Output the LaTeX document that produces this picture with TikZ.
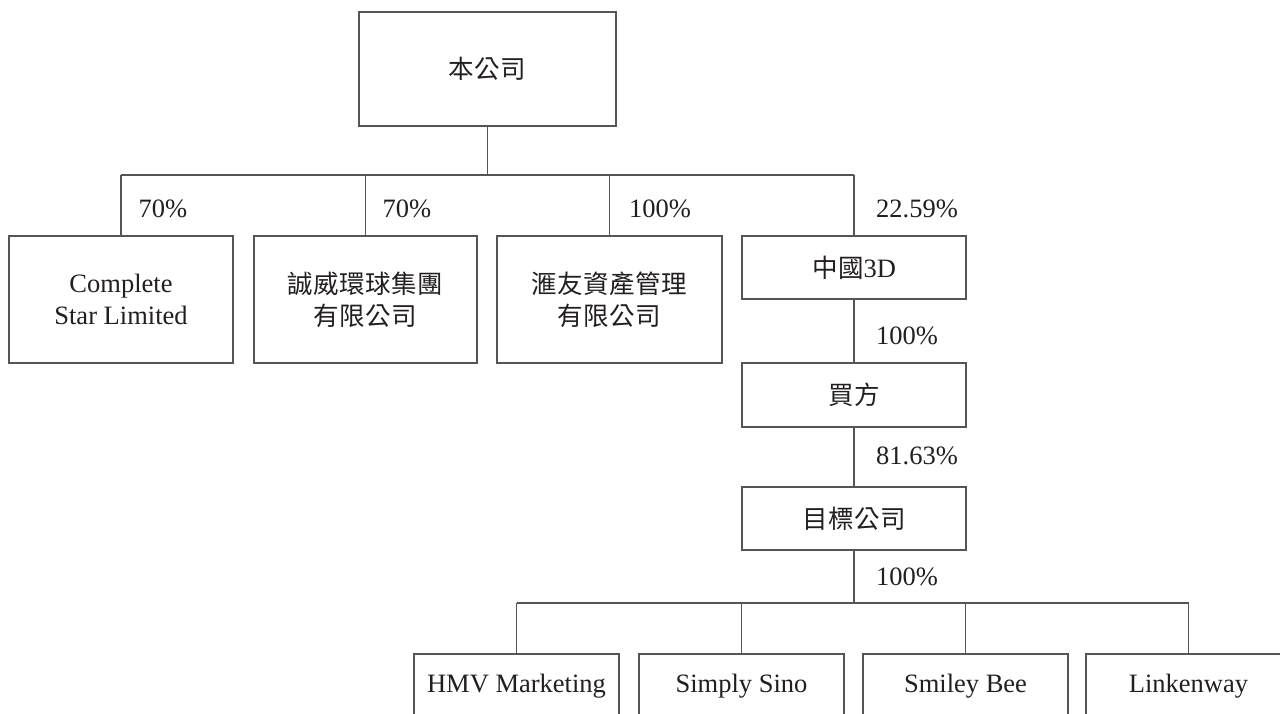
\documentclass[tikz,border=0pt]{standalone}
\usepackage{fontspec}
\setmainfont{Liberation Serif}
\newfontfamily\cjk[LetterSpace=2]{Noto Sans CJK TC}
\begin{document}
\begin{tikzpicture}[x=1pt,y=-1pt,
  box/.style={draw=linecol,line width=1.3pt,rectangle,inner sep=0pt,align=center,text=txtcol,font=\fontsize{26.5}{32}\selectfont},
  cbox/.style={box,font=\cjk\fontsize{25.5}{32}\selectfont},
  pct/.style={text=txtcol,font=\fontsize{26.5}{30}\selectfont,inner sep=0pt},
  conn/.style={draw=linecol,line width=1.3pt}]
\definecolor{linecol}{HTML}{555555}
\definecolor{txtcol}{HTML}{231F20}
\useasboundingbox (0,0) rectangle (1280,713);
\fill[white] (0,0) rectangle (1280,713);
% nodes
\node[cbox,minimum width=257pt,minimum height=114pt] (top) at (487.5,69) {本公司};
\node[box,minimum width=224pt,minimum height=127pt] (cs) at (121,299.5) {Complete\\Star Limited};
\node[cbox,minimum width=223pt,minimum height=127pt] (cw) at (365.5,299.5) {誠威環球集團\\有限公司};
\node[cbox,minimum width=225pt,minimum height=127pt] (hy) at (609.5,299.5) {滙友資產管理\\有限公司};
\node[box,minimum width=224pt,minimum height=63pt] (zg) at (854,267.5) {{\cjk\fontsize{25.5}{30}\selectfont 中國}3D};
\node[cbox,minimum width=224pt,minimum height=64pt] (mf) at (854,395) {買方};
\node[cbox,minimum width=224pt,minimum height=63pt] (mb) at (854,518.5) {目標公司};
\node[box,minimum width=205pt,minimum height=64pt] (hmv) at (516.5,686) {HMV Marketing};
\node[box,minimum width=205pt,minimum height=64pt] (ss) at (741.5,686) {Simply Sino};
\node[box,minimum width=205pt,minimum height=64pt] (sb) at (965.5,686) {Smiley Bee};
\node[box,minimum width=205pt,minimum height=64pt] (lw) at (1188.5,686) {Linkenway};
% buses
\coordinate (b1) at (487.5,175);
\coordinate (b1l) at (121,175);
\coordinate (b1r) at (854,175);
\coordinate (b2) at (854,603);
\coordinate (b2l) at (516.5,603);
\coordinate (b2r) at (1188.5,603);
\draw[conn] (top.south) -- (b1);
\draw[conn] (b1l) -- (b1r);
\foreach \n in {cs,cw,hy,zg} \draw[conn] (\n.north) -- (\n.north |- b1);
\draw[conn] (zg.south) -- (mf.north);
\draw[conn] (mf.south) -- (mb.north);
\draw[conn] (mb.south) -- (b2);
\draw[conn] (b2l) -- (b2r);
\foreach \n in {hmv,ss,sb,lw} \draw[conn] (\n.north) -- (\n.north |- b2);
% labels
\node[pct] (p1) at (163,209) {70\%};
\node[pct] (p2) at (407,209) {70\%};
\node[pct] (p3) at (660,209) {100\%};
\node[pct] (p4) at (917,209) {22.59\%};
\node[pct] (p5) at (907,336) {100\%};
\node[pct] (p6) at (917,456) {81.63\%};
\node[pct] (p7) at (907,577) {100\%};
\end{tikzpicture}
\end{document}
